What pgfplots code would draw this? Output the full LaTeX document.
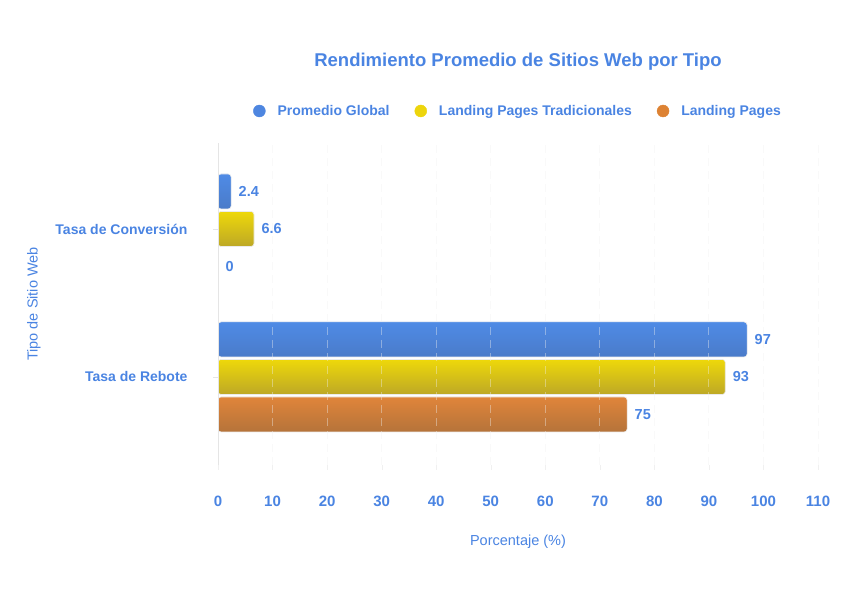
\documentclass[border=0pt]{standalone}
\usepackage{fontspec}
\setmainfont{Liberation Sans}
\usepackage{pgfplots}
\pgfplotsset{compat=1.18}
\definecolor{txtblue}{HTML}{4A84E2}
\definecolor{blueT}{HTML}{4F8BE6}
\definecolor{blueB}{HTML}{4A7BC9}
\definecolor{yelT}{HTML}{EED80A}
\definecolor{yelB}{HTML}{BDA826}
\definecolor{orT}{HTML}{E0853A}
\definecolor{orB}{HTML}{B5733A}
\definecolor{blueL}{HTML}{4E86E0}
\definecolor{yelL}{HTML}{EDD50C}
\definecolor{orL}{HTML}{DD8233}
\pgfplotsset{
  barblue/.style={bar shift=37.5bp, top color=blueT, bottom color=blueB, draw=white!92!black, line width=0.6pt, rounded corners=3bp},
  baryel/.style={bar shift=0bp, top color=yelT, bottom color=yelB, draw=white!92!black, line width=0.6pt, rounded corners=3bp},
  baror/.style={bar shift=-37.5bp, top color=orT, bottom color=orB, draw=white!92!black, line width=0.6pt, rounded corners=3bp},
}
\begin{document}
\begin{tikzpicture}
\path (0,0) rectangle (857bp,598bp);
\begin{axis}[
  at={(218bp,133bp)}, anchor=south west,
  scale only axis, width=600bp, height=322bp,
  xbar, bar width=35bp,
  xmin=0, xmax=110, xtick={0,10,...,110},
  ymin=-0.595, ymax=1.581,
  ytick={0,1}, yticklabels={Tasa de Rebote, Tasa de Conversión},
  /pgf/number format/assume math mode=true,
  axis lines*=left,
  x axis line style={draw=none},
  y axis line style={draw=black!10, line width=0.8pt},
  tick align=outside,
  major tick length=5bp,
  x tick style={draw=black!6},
  y tick style={draw=black!10},
  xmajorgrids,
  grid style={draw=white!94!black, opacity=0.4, dash pattern=on 8bp off 5bp, line width=0.9pt},
  axis on top,
  ticklabel style={text=txtblue},
  xticklabel style={anchor=center, yshift=-31bp, font=\fontsize{15bp}{17bp}\selectfont\bfseries},
  yticklabel style={anchor=east, xshift=-22bp, font=\fontsize{14bp}{16bp}\selectfont\bfseries},
  xlabel={Porcentaje (\%)},
  ylabel={Tipo de Sitio Web},
  label style={font=\fontsize{14.5bp}{17bp}\selectfont, text=txtblue},
  xlabel style={at={(rel axis cs:0.5,-0.2391)}, anchor=center},
  ylabel style={at={(rel axis cs:-0.3067,0.5)}, anchor=center},
  title={Rendimiento Promedio de Sitios Web por Tipo},
  title style={at={(rel axis cs:0.5,1.233)}, anchor=center, font=\fontsize{18.5bp}{21bp}\selectfont\bfseries, text=txtblue},
  legend columns=3,
  legend style={at={(rel axis cs:0.5,1.0994)}, anchor=center, draw=none, fill=none,
    font=\fontsize{14bp}{16bp}\selectfont\bfseries, text=txtblue,
    /tikz/every odd column/.append style={column sep=10bp},
    /tikz/every even column/.append style={column sep=23bp}},
  nodes near coords,
  every node near coord/.append style={font=\fontsize{14.5bp}{17bp}\selectfont\bfseries, text=txtblue, anchor=west, xshift=4bp},
]
\addlegendimage{legend image code/.code={\fill[blueL] (0bp,0bp) circle (6bp);}}
\addlegendimage{legend image code/.code={\fill[yelL] (0bp,0bp) circle (6bp);}}
\addlegendimage{legend image code/.code={\fill[orL] (0bp,0bp) circle (6bp);}}
\legend{Promedio Global, Landing Pages Tradicionales, Landing Pages}
% Promedio Global
\addplot[barblue] coordinates {(97,0)};
\addplot[barblue] coordinates {(2.4,1)};
% Landing Pages Tradicionales
\addplot[baryel] coordinates {(93,0)};
\addplot[baryel] coordinates {(6.6,1)};
% Landing Pages
\addplot[baror] coordinates {(75,0)};
\addplot[baror] coordinates {(0,1)};
\end{axis}
\end{tikzpicture}
\end{document}
